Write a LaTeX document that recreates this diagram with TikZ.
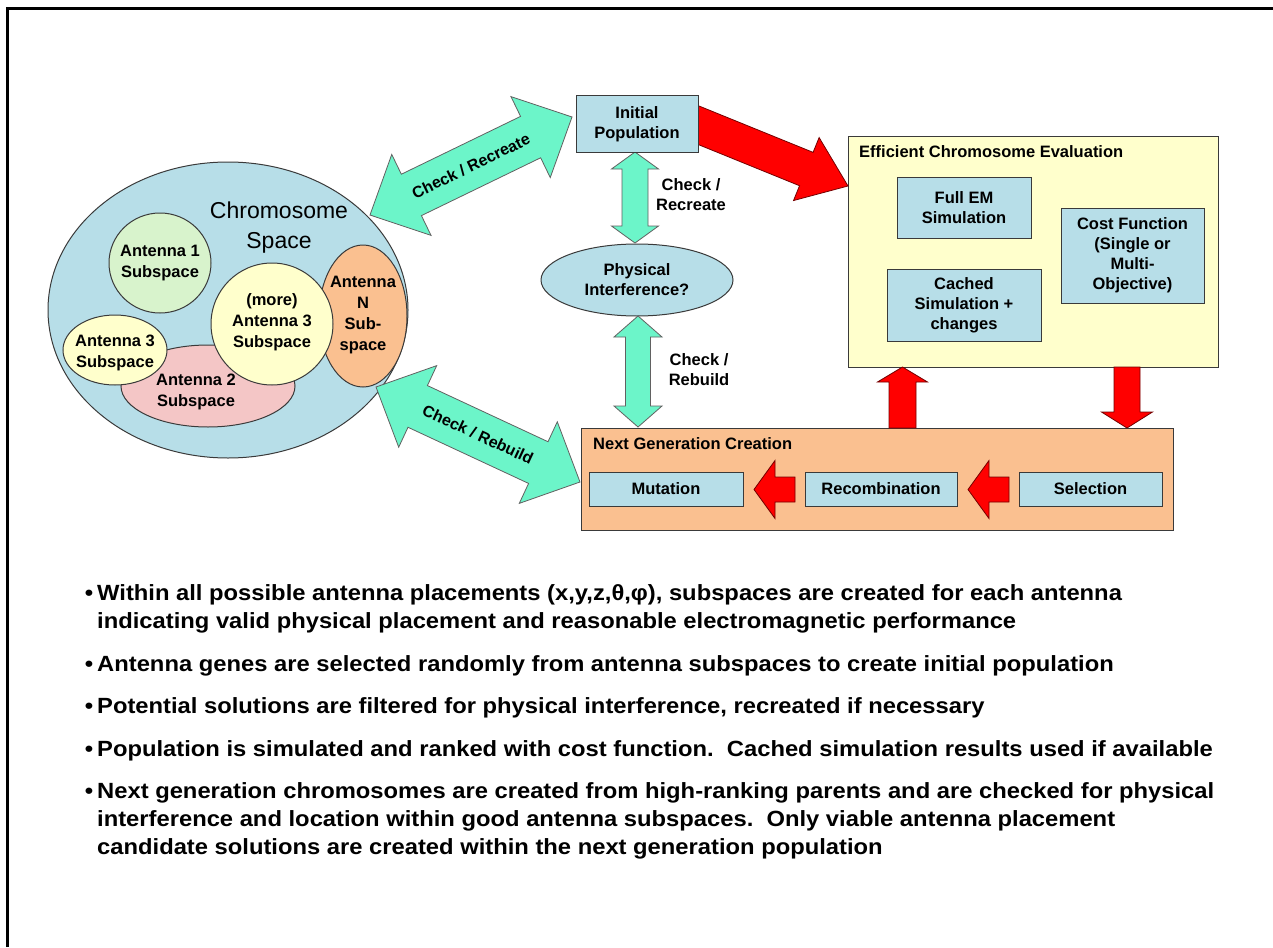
\documentclass[tikz,border=0pt]{standalone}
\usepackage{fontspec}
\setmainfont{Liberation Sans}
\newfontfamily\bulfam[FakeStretch=1.08]{Liberation Sans}
\usetikzlibrary{calc,shapes.geometric}
\definecolor{boxblue}{HTML}{B7DEE8}
\definecolor{paleyellow}{HTML}{FFFFCC}
\definecolor{peach}{HTML}{FAC090}
\definecolor{palegreen}{HTML}{D8F3CC}
\definecolor{palepink}{HTML}{F4C6C6}
\definecolor{tealc}{HTML}{6CF5C9}
\definecolor{outlc}{HTML}{3A3A3A}
\newcommand\boxfont{\fontsize{16.5}{20}\selectfont\bfseries}
\newcommand\subfont{\fontsize{16.5}{21}\selectfont\bfseries}
\newcommand\bulfont{\bulfam\fontsize{22}{28}\selectfont\bfseries}
\newcommand\getgeom[2]{\path let \p1=(#1),\p2=(#2) in \pgfextra{\pgfmathsetmacro\tmpa{atan2(\y2-\y1,\x2-\x1)}\pgfmathsetmacro\tmpl{veclen(\x2-\x1,\y2-\y1)}\global\let\gang\tmpa\global\let\glen\tmpl};}
% from, to, shaft half width, head half width, head length, style
\newcommand\dblarrow[6]{\getgeom{#1}{#2}%
 \begin{scope}[shift={(#1)},rotate=\gang]
 \path[#6] (0,0) -- (#5,#4) -- (#5,#3) -- ({\glen-#5},#3) -- ({\glen-#5},#4) -- (\glen,0) -- ({\glen-#5},-#4) -- ({\glen-#5},-#3) -- (#5,-#3) -- (#5,-#4) -- cycle;
 \end{scope}}
\newcommand\sglarrow[6]{\getgeom{#1}{#2}%
 \begin{scope}[shift={(#1)},rotate=\gang]
 \path[#6] (0,#3) -- ({\glen-#5},#3) -- ({\glen-#5},#4) -- (\glen,0) -- ({\glen-#5},-#4) -- ({\glen-#5},-#3) -- (0,-#3) -- cycle;
 \end{scope}}
\tikzset{
 outl/.style={draw=outlc, line width=1pt},
 bx/.style={rectangle, outl, fill=boxblue, align=center, font=\boxfont, inner sep=0pt},
 sub/.style={ellipse, outl, inner sep=0pt},
 lbl/.style={align=center, font=\subfont, inner sep=0pt},
 tealarrow/.style={fill=tealc, draw=outlc!80, line width=0.8pt},
 redarrow/.style={fill=red, draw=red!45!black, line width=0.8pt},
 bul/.style={anchor=base west, font=\bulfont, inner sep=0pt},
 bdot/.style={anchor=base, font=\bulfont, inner sep=0pt},
}
\begin{document}
\begin{tikzpicture}[x=1pt,y=-1pt]
\useasboundingbox (0,0) rectangle (1273,947);
\fill[white] (0,0) rectangle (1273,947);
\draw[line width=3pt] (7,947) -- (7,9) -- (1273,9);

% ---------- chromosome space ----------
\node[sub, fill=boxblue, minimum width=360pt, minimum height=296pt] (space) at (228,310) {};
\node[align=center, inner sep=0pt, font=\fontsize{23}{30}\selectfont] (spacet) at (279,228) {Chromosome\\Space};
\node[sub, fill=palegreen, minimum width=102pt, minimum height=100pt] (ant1) at (160,263) {};
\node[lbl] (ant1t) at (160,263) {Antenna 1\\Subspace};
\node[sub, fill=palepink, minimum width=174pt, minimum height=82pt] (ant2) at (208,386) {};
\node[sub, fill=paleyellow, minimum width=104pt, minimum height=70pt] (ant3) at (115,350) {};
\node[lbl] (ant3t) at (115,353) {Antenna 3\\Subspace};
\node[lbl] (ant2t) at (196,392) {Antenna 2\\Subspace};
\node[sub, fill=peach, minimum width=88pt, minimum height=142pt] (antN) at (363,316) {};
\node[lbl] (antNt) at (363,315) {Antenna\\N\\Sub-\\space};
\node[sub, fill=paleyellow, minimum width=122pt, minimum height=122pt] (more) at (272,324) {};
\node[lbl] (moret) at (272,322) {(more)\\Antenna 3\\Subspace};

% ---------- central column ----------
\node[ellipse, outl, fill=boxblue, align=center, font=\boxfont, inner sep=0pt, minimum width=192pt, minimum height=72pt] (phys) at (637,280) {Physical\\Interference?};

% ---------- evaluation ----------
\node[rectangle, outl, fill=paleyellow, minimum width=370pt, minimum height=231pt] (eff) at (1033,251.5) {};
\node[anchor=west, font=\boxfont, inner sep=0pt] (efft) at (859,152) {Efficient Chromosome Evaluation};
\node[bx, minimum width=134pt, minimum height=61pt] (fullem) at (964,207.5) {Full EM\\Simulation};
\node[bx, minimum width=143pt, minimum height=95pt] (cost) at (1132.5,255.5) {Cost Function\\(Single or\\Multi-\\Objective)};
\node[bx, minimum width=154pt, minimum height=72pt] (cached) at (964,305) {Cached\\Simulation +\\changes};

% ---------- next generation ----------
\node[rectangle, outl, fill=peach, minimum width=592pt, minimum height=102pt] (nextgen) at (877,479) {};
\node[anchor=west, font=\boxfont, inner sep=0pt] (nextgent) at (593,444) {Next Generation Creation};
\node[bx, minimum width=154pt, minimum height=34pt] (mut) at (666,489) {Mutation};
\node[bx, minimum width=152pt, minimum height=34pt] (rec) at (881,489) {Recombination};
\node[bx, minimum width=143pt, minimum height=34pt] (sel) at (1090.5,489) {Selection};

% ---------- arrow end points ----------
\coordinate (cr1) at (370,215);
\coordinate (cr2) at (572,117);
\coordinate (rb1) at (376,387);
\coordinate (rb2) at (580,482);
\coordinate (v1a) at (635,152);
\coordinate (v1b) at (635,243);
\coordinate (v2a) at (638,316);
\coordinate (v2b) at (638,427);
\coordinate (rd1) at (680,117.7);
\coordinate (rd2) at (848,186);
\coordinate (up1) at (902.5,428);
\coordinate (up2) at (902.5,367);
\coordinate (dn1) at (1127,367);
\coordinate (dn2) at (1127,428);
\coordinate (l1a) at (795,489.5);
\coordinate (l1b) at (754,489.5);
\coordinate (l2a) at (1009,489.5);
\coordinate (l2b) at (968,489.5);

% ---------- teal arrows ----------
\dblarrow{cr1}{cr2}{23}{45}{46}{tealarrow}
\dblarrow{rb1}{rb2}{23}{45}{46}{tealarrow}
\dblarrow{v1a}{v1b}{13}{23.5}{17}{tealarrow}
\dblarrow{v2a}{v2b}{12.5}{24}{21}{tealarrow}
\node[font=\fontsize{16}{18}\selectfont\bfseries, rotate=25.9, inner sep=0pt] (crt) at (471,166) {Check / Recreate};
\node[font=\fontsize{16}{18}\selectfont\bfseries, rotate=-25, inner sep=0pt] (rbt) at (478,434.5) {Check / Rebuild};
\node[lbl, font=\boxfont] (v1t) at (691,195) {Check /\\Recreate};
\node[lbl, font=\boxfont] (v2t) at (699,370) {Check /\\Rebuild};

% ---------- red arrows ----------
\sglarrow{rd1}{rd2}{18}{34}{45}{redarrow}
\node[bx, minimum width=122pt, minimum height=56pt] (init) at (637,124) {Initial\\Population};
\sglarrow{up1}{up2}{13.5}{25}{15}{redarrow}
\sglarrow{dn1}{dn2}{13}{25.5}{16}{redarrow}
\sglarrow{l1a}{l1b}{12.5}{29}{21}{redarrow}
\sglarrow{l2a}{l2b}{12.5}{29}{21}{redarrow}

% ---------- bullet text ----------
\foreach \yy/\nm in {600/b1,671/b3,713/b4,756/b5,798/b6}
  \node[bdot] (\nm d) at (89,\yy) {•};
\node[bul] (b1) at (97,600) {Within all possible antenna placements (x,y,z,θ,φ), subspaces are created for each antenna};
\node[bul] (b2) at (97,628) {indicating valid physical placement and reasonable electromagnetic performance};
\node[bul] (b3) at (97,671) {Antenna genes are selected randomly from antenna subspaces to create initial population};
\node[bul] (b4) at (97,713) {Potential solutions are filtered for physical interference, recreated if necessary};
\node[bul] (b5) at (97,756) {Population is simulated and ranked with cost function.\ \ Cached simulation results used if available};
\node[bul] (b6) at (97,798) {Next generation chromosomes are created from high-ranking parents and are checked for physical};
\node[bul] (b7) at (97,826) {interference and location within good antenna subspaces.\ \ Only viable antenna placement};
\node[bul] (b8) at (97,854) {candidate solutions are created within the next generation population};
\end{tikzpicture}
\end{document}
